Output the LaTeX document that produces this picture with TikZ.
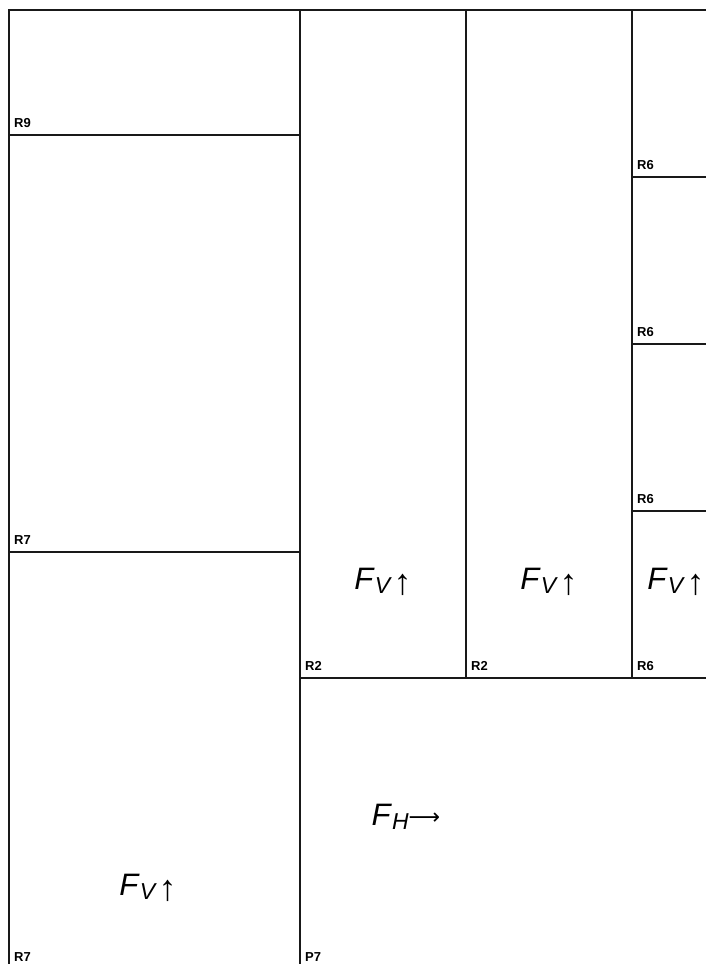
\documentclass[tikz,border=0pt]{standalone}
\usepackage{fontspec}
\setmainfont{Liberation Sans}
\newfontfamily\arrowfont{DejaVu Sans}
\usepackage{tikz}
\usetikzlibrary{positioning}

\newcommand{\forceV}{\textit{F}\raisebox{-0.13em}{\fontsize{23}{23}\selectfont\textit{V}}\hspace{0.05em}\raisebox{-5pt}{\fontsize{36}{36}\selectfont↑}}
\newcommand{\forceH}{\textit{F}\raisebox{-0.13em}{\fontsize{23}{23}\selectfont\textit{H}}\raisebox{1pt}{\arrowfont\fontsize{22}{22}\selectfont⟶}}

\tikzset{
  wall/.style={draw=black!90, line width=1.2pt},
  tag/.style={font=\fontsize{13}{14}\selectfont\bfseries, anchor=base west, inner sep=0pt},
  force/.style={font=\fontsize{31}{31}\selectfont, anchor=base, inner sep=0pt}
}

\begin{document}
\begin{tikzpicture}[x=1pt, y=-1pt]

\useasboundingbox (0,0) rectangle (706,964);
\fill[white] (0,0) rectangle (706,964);
\clip (0,0) rectangle (706,964);

% === Left column ===
\draw[wall] (9,10) rectangle (300,135);
\node[tag] (r9) at (14,127) {R9};

\draw[wall] (9,135) rectangle (300,552);
\node[tag] (r7a) at (14,544) {R7};

\draw[wall] (9,552) rectangle (300,970);
\node[tag] (r7b) at (14,961) {R7};
\node[force] (fv1) at (148,895) {\forceV};

% === Middle columns ===
\draw[wall] (300,10) rectangle (466,678);
\node[tag] (r2a) at (305,670) {R2};
\node[force] (fv2) at (383,589) {\forceV};

\draw[wall] (466,10) rectangle (632,678);
\node[tag] (r2b) at (471,670) {R2};
\node[force] (fv3) at (549,589) {\forceV};

% === Right column ===
\foreach \top/\bot/\name in {10/177/r6a, 177/344/r6b, 344/511/r6c, 511/678/r6d}{
  \draw[wall] (632,\top) rectangle (720,\bot);
  \node[tag] (\name) at (637,\bot-8) {R6};
}
\node[force] (fv4) at (676,589) {\forceV};

% === Bottom plate ===
\draw[wall] (300,678) rectangle (720,970);
\node[tag] (p7) at (305,961) {P7};
\node[force] (fh) at (406,825) {\forceH};

\end{tikzpicture}
\end{document}
